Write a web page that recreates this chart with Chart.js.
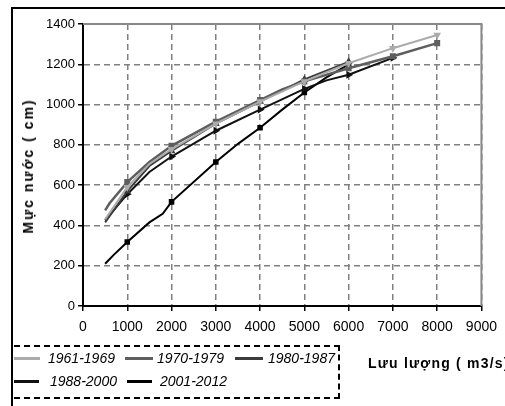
<!DOCTYPE html>
<html>
<head>
<meta charset="utf-8">
<script src="https://cdn.jsdelivr.net/npm/chart.js"></script>
<style>
  html, body { margin: 0; padding: 0; background: #fff; }
  #wrap { position: relative; width: 505px; height: 406px; overflow: hidden; font-family: "Liberation Sans", Arial, sans-serif; }
  #frame { position: absolute; left: 11px; top: 7px; width: 500px; height: 410px; border-top: 2px solid #000; border-left: 2px solid #000; }
  #chart { position: absolute; left: 0; top: 0; }
  #ytitle { position: absolute; left: 28px; top: 166px; transform: translate(-50%, -50%) rotate(-90deg); white-space: nowrap; font-weight: bold; font-size: 14px; letter-spacing: 2px; }
  #xtitle { position: absolute; left: 368px; top: 355px; white-space: nowrap; font-weight: bold; font-size: 14px; letter-spacing: 1.2px; }
  #legendbox { position: absolute; left: 14px; top: 345px; width: 324px; height: 50px; border: 2px dashed #000; border-left: none; }
  .swatch { position: absolute; height: 3px; }
  .lbl { position: absolute; font-style: italic; font-size: 14px; white-space: nowrap; line-height: 16px; }
</style>
</head>
<body>
<div id="wrap">
  <div id="frame"></div>
  <canvas id="chart" width="505" height="406"></canvas>
  <div id="ytitle">Mực nước ( cm)</div>
  <div id="xtitle">Lưu lượng ( m3/s)</div>
  <div id="legendbox"></div>
</div>
<script>
// series names and colours
var seriesNames = ['1961-1969', '1970-1979', '1980-1987', '1988-2000', '2001-2012'];
var seriesColors = ['#ababab', '#5e5e5e', '#3c3c3c', '#111111', '#000000'];

// discharge (m3/s) and water level (cm)
var x1961 = [500, 1000, 1500, 2000, 3000, 4000, 5000, 6000, 7000, 8000];
var y1961 = [430, 590, 705, 778, 905, 1015, 1115, 1205, 1280, 1345];

var x1970 = [500, 600, 1000, 1500, 2000, 3000, 4000, 4500, 5000, 6000, 7000, 8000];
var y1970 = [475, 510, 615, 715, 795, 915, 1022, 1075, 1115, 1180, 1240, 1305];

var x1980 = [500, 1000, 1500, 2000, 3000, 4000, 5000, 6000];
var y1980 = [415, 570, 695, 770, 905, 1015, 1125, 1212];

var x1988 = [500, 1000, 1500, 2000, 3000, 4000, 5000, 5500, 6000, 7000];
var y1988 = [425, 555, 665, 742, 870, 975, 1078, 1120, 1148, 1232];

var x2001 = [500, 700, 1000, 1500, 1800, 2000, 3000, 3500, 4000, 4500, 5000, 5500, 6000];
var y2001 = [210, 255, 318, 415, 458, 517, 715, 805, 885, 975, 1060, 1135, 1200];

// axis ticks
var xMax = 9000, xStep = 1000;
var yMax = 1400, yStep = 200;

var xs = [x1961, x1970, x1980, x1988, x2001];
var ys = [y1961, y1970, y1980, y1988, y2001];
var markers = ['triangle', 'rect', 'triangle', 'triangle', 'rect'];
var markerRot = [180, 0, 0, 90, 0];
var lineWidths = [2, 2.5, 2, 2, 2];

function toPoints(xa, ya) {
    return xa.map(function (v, i) { return { x: v, y: ya[i] }; });
}

var datasets = seriesNames.map(function (name, i) {
    return {
        label: name,
        data: toPoints(xs[i], ys[i]),
        showLine: true,
        borderColor: seriesColors[i],
        backgroundColor: seriesColors[i],
        borderWidth: lineWidths[i],
        pointStyle: markers[i],
        rotation: markerRot[i],
        pointRadius: function (ctx) {
            var p = ctx.raw;
            return p && p.x % 1000 === 0 ? 2.5 : 0;
        },
        tension: 0
    };
});

// grey top/right plot border
var plotBorder = {
    id: 'plotBorder',
    beforeDatasetsDraw: function (chart) {
        var a = chart.chartArea, c = chart.ctx;
        c.save();
        c.strokeStyle = '#888';
        c.lineWidth = 2;
        c.beginPath();
        c.moveTo(a.left, a.top);
        c.lineTo(a.right, a.top);
        c.lineTo(a.right, a.bottom);
        c.stroke();
        c.restore();
    }
};

var fontFamily = '"Liberation Sans", Arial, sans-serif';
function plain(v) { return String(v); }

var ctx = document.getElementById('chart').getContext('2d');
var chart = new Chart(ctx, {
    type: 'scatter',
    data: { datasets: datasets },
    options: {
        responsive: false,
        animation: false,
        layout: { padding: { top: 24, right: 17, left: 0, bottom: 60 } },
        plugins: { legend: { display: false }, tooltip: { enabled: false } },
        scales: {
            x: {
                min: 0, max: xMax,
                ticks: { stepSize: xStep, color: '#000', font: { family: fontFamily, size: 14 }, padding: 8, maxRotation: 0, callback: plain },
                grid: { color: '#808080', lineWidth: 1.5, tickColor: '#000', tickLength: 5 },
                border: { color: '#000', width: 2, dash: [6, 4] },
                afterFit: function (s) { s.height = 40; }
            },
            y: {
                min: 0, max: yMax,
                ticks: { stepSize: yStep, color: '#000', font: { family: fontFamily, size: 13 }, padding: 3, callback: plain },
                grid: { color: '#808080', lineWidth: 1.5, tickColor: '#000', tickLength: 5 },
                border: { color: '#000', width: 2, dash: [6, 4] },
                afterFit: function (s) { s.width = 83; }
            }
        }
    },
    plugins: [plotBorder]
});

// legend entries placed like the original dashed box
var legendPos = [
    { sx: 14, sw: 26, tx: 48, y: 358 },
    { sx: 125, sw: 28, tx: 157, y: 358 },
    { sx: 235, sw: 28, tx: 268, y: 358 },
    { sx: 14, sw: 25, tx: 50, y: 381 },
    { sx: 127, sw: 25, tx: 160, y: 381 }
];
var wrap = document.getElementById('wrap');
seriesNames.forEach(function (name, i) {
    var p = legendPos[i];
    var sw = document.createElement('div');
    sw.className = 'swatch';
    sw.style.left = p.sx + 'px';
    sw.style.top = (p.y - 1) + 'px';
    sw.style.width = p.sw + 'px';
    sw.style.background = seriesColors[i];
    var lb = document.createElement('div');
    lb.className = 'lbl';
    lb.style.left = p.tx + 'px';
    lb.style.top = (p.y - 8) + 'px';
    lb.textContent = name;
    wrap.appendChild(sw);
    wrap.appendChild(lb);
});
</script>
</body>
</html>
